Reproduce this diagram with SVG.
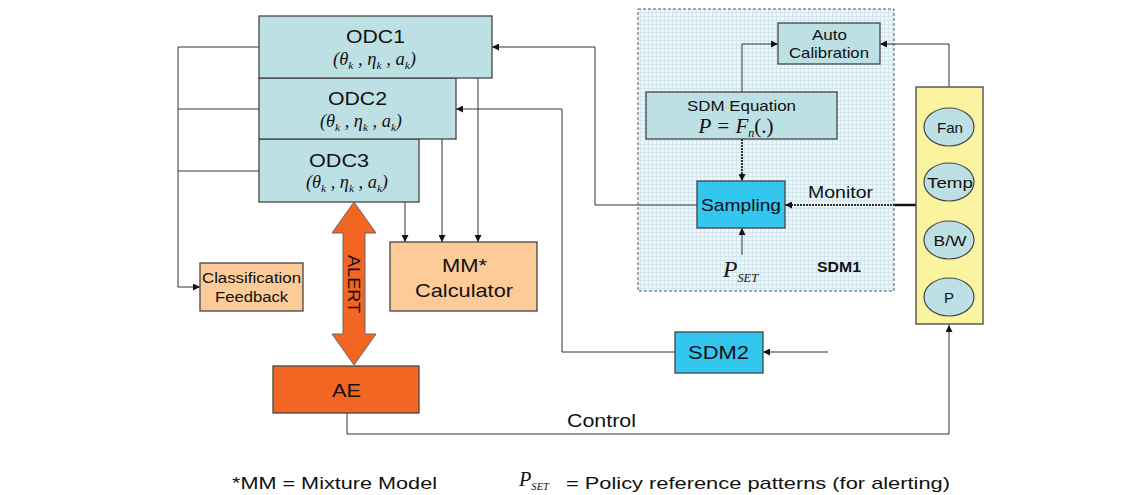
<svg xmlns="http://www.w3.org/2000/svg" width="1143" height="495" viewBox="0 0 1143 495">
<defs>
<style>
.box{stroke:#444;stroke-width:1.3}
.odc{fill:#BCE0E4}
.peach{fill:#FDCB98}
.orange{fill:#F26522}
.cyan{fill:#33C6EE}
.t{font-family:"Liberation Sans",Arial,sans-serif;fill:#111;text-anchor:middle}
.m{font-family:"Liberation Serif","Times New Roman",serif;font-style:italic;fill:#111;text-anchor:middle}
.ln{fill:none;stroke:#333;stroke-width:1}
.ell{fill:#BCE0E4;stroke:#444;stroke-width:1.2}
</style>
<marker id="ah" viewBox="0 0 10 10" refX="10" refY="5" markerWidth="7" markerHeight="7" markerUnits="userSpaceOnUse" orient="auto">
<path d="M0,0 L10,5 L0,10 z" fill="#111"/>
</marker>
<pattern id="grid" width="4" height="4" patternUnits="userSpaceOnUse">
<rect width="4" height="4" fill="#EEF6F9"/>
<path d="M0,0.5 H4 M0.5,0 V4" stroke="#D3E6EE" stroke-width="1"/>
</pattern>
</defs>
<rect width="1143" height="495" fill="#fff"/>

<g id="sdm1">
<rect x="638" y="9" width="256" height="282" fill="url(#grid)" stroke="#555" stroke-width="1" stroke-dasharray="3,2"/>
<text class="t" x="839" y="272" font-size="14" font-weight="bold" textLength="44" lengthAdjust="spacingAndGlyphs">SDM1</text>
</g>

<g id="connectors">
<path class="ln" d="M259,47 H178 V287 H200" marker-end="url(#ah)"/>
<path class="ln" d="M259,109 H178"/>
<path class="ln" d="M259,171 H178"/>
<path class="ln" d="M405,202 V242" marker-end="url(#ah)"/>
<path class="ln" d="M442,139 V242" marker-end="url(#ah)"/>
<path class="ln" d="M478,78 V242" marker-end="url(#ah)"/>
<path class="ln" d="M697,205 H595 V47 H492" marker-end="url(#ah)"/>
<path class="ln" d="M675,352 H562 V109 H456" marker-end="url(#ah)"/>
<path class="ln" d="M828,352 H763" marker-end="url(#ah)"/>
<path class="ln" d="M347,413 V434 H949 V325" marker-end="url(#ah)"/>
<path class="ln" d="M742,92 V44 H778" marker-end="url(#ah)"/>
<path class="ln" d="M949,87 V44 H880" marker-end="url(#ah)"/>
<path d="M742,139 V181" fill="none" stroke="#333" stroke-width="2" stroke-dasharray="2,1" marker-end="url(#ah)"/>
<path class="ln" d="M742,255 V228" marker-end="url(#ah)"/>
<path d="M917,205 H895" fill="none" stroke="#111" stroke-width="2.5"/>
<path d="M895,205 H785" fill="none" stroke="#333" stroke-width="2" stroke-dasharray="2,1" marker-end="url(#ah)"/>
<text class="t" x="840.5" y="198" font-size="17" textLength="65" lengthAdjust="spacingAndGlyphs">Monitor</text>
<text class="t" x="601.5" y="427" font-size="18" textLength="69" lengthAdjust="spacingAndGlyphs">Control</text>
</g>

<g id="odc3">
<rect class="box odc" x="259" y="139" width="160" height="63"/>
<text class="t" x="339" y="167" font-size="19" textLength="60" lengthAdjust="spacingAndGlyphs">ODC3</text>
<text class="m" x="347" y="188" font-size="18" textLength="82" lengthAdjust="spacingAndGlyphs">(<tspan>θ</tspan><tspan font-size="11" dy="4">k</tspan><tspan dy="-4"> , η</tspan><tspan font-size="11" dy="4">k</tspan><tspan dy="-4"> , a</tspan><tspan font-size="11" dy="4">k</tspan><tspan dy="-4">)</tspan></text>
</g>
<g id="odc2">
<rect class="box odc" x="259" y="78" width="197" height="61"/>
<text class="t" x="357.5" y="105" font-size="19" textLength="59" lengthAdjust="spacingAndGlyphs">ODC2</text>
<text class="m" x="361" y="127" font-size="18" textLength="82" lengthAdjust="spacingAndGlyphs">(<tspan>θ</tspan><tspan font-size="11" dy="4">k</tspan><tspan dy="-4"> , η</tspan><tspan font-size="11" dy="4">k</tspan><tspan dy="-4"> , a</tspan><tspan font-size="11" dy="4">k</tspan><tspan dy="-4">)</tspan></text>
</g>
<g id="odc1">
<rect class="box odc" x="259" y="16" width="233" height="62"/>
<text class="t" x="375.5" y="43" font-size="19" textLength="59" lengthAdjust="spacingAndGlyphs">ODC1</text>
<text class="m" x="374.5" y="65" font-size="18" textLength="83" lengthAdjust="spacingAndGlyphs">(<tspan>θ</tspan><tspan font-size="11" dy="4">k</tspan><tspan dy="-4"> , η</tspan><tspan font-size="11" dy="4">k</tspan><tspan dy="-4"> , a</tspan><tspan font-size="11" dy="4">k</tspan><tspan dy="-4">)</tspan></text>
</g>

<g id="classification">
<rect class="box peach" x="200" y="263" width="103" height="48"/>
<text class="t" x="251.5" y="283" font-size="14" textLength="99" lengthAdjust="spacingAndGlyphs">Classification</text>
<text class="t" x="251.5" y="302" font-size="14" textLength="73" lengthAdjust="spacingAndGlyphs">Feedback</text>
</g>

<g id="mm">
<rect class="box peach" x="390" y="242" width="147" height="69"/>
<text class="t" x="464.5" y="272" font-size="19" textLength="45" lengthAdjust="spacingAndGlyphs">MM*</text>
<text class="t" x="464" y="297" font-size="19" textLength="98" lengthAdjust="spacingAndGlyphs">Calculator</text>
</g>

<g id="alert">
<path class="orange" stroke="#666" stroke-width="1" d="M354,202 L376,233 L365,233 L365,334 L376,334 L354,365 L332,334 L343,334 L343,233 L332,233 Z"/>
<text class="t" x="0" y="0" font-size="16" textLength="58" lengthAdjust="spacingAndGlyphs" transform="translate(348,284) rotate(90)">ALERT</text>
</g>

<g id="ae">
<rect class="box orange" x="273" y="366" width="146" height="47"/>
<text class="t" x="346.5" y="397" font-size="19" textLength="29" lengthAdjust="spacingAndGlyphs">AE</text>
</g>

<g id="sdm2">
<rect class="box cyan" x="675" y="332" width="88" height="41"/>
<text class="t" x="718.5" y="359" font-size="18" textLength="61" lengthAdjust="spacingAndGlyphs">SDM2</text>
</g>

<g id="autocal">
<rect class="box odc" x="778" y="23" width="102" height="41"/>
<text class="t" x="829.5" y="40" font-size="15" textLength="35" lengthAdjust="spacingAndGlyphs">Auto</text>
<text class="t" x="829" y="58" font-size="15" textLength="80" lengthAdjust="spacingAndGlyphs">Calibration</text>
</g>

<g id="sdmeq">
<rect class="box odc" x="646" y="92" width="191" height="47"/>
<text class="t" x="741.5" y="111" font-size="15" textLength="109" lengthAdjust="spacingAndGlyphs">SDM Equation</text>
<text class="m" x="736" y="133" font-size="21">P = F<tspan font-size="12" dy="4">n</tspan><tspan dy="-4" font-style="normal">(.)</tspan></text>
</g>

<g id="sampling">
<rect class="box cyan" x="697" y="181" width="88" height="47"/>
<text class="t" x="741" y="211" font-size="17" textLength="80" lengthAdjust="spacingAndGlyphs">Sampling</text>
</g>

<g id="pset">
<text class="m" x="740.5" y="277" font-size="23" textLength="35" lengthAdjust="spacingAndGlyphs">P<tspan font-size="12" dy="5">SET</tspan></text>
</g>

<g id="devices">
<rect x="916" y="87" width="67" height="237" fill="#FAF3A0" stroke="#444" stroke-width="1.3"/>
<ellipse class="ell" cx="949" cy="127" rx="25" ry="19"/>
<text class="t" x="950" y="133" font-size="15" textLength="26" lengthAdjust="spacingAndGlyphs">Fan</text>
<ellipse class="ell" cx="949" cy="182" rx="25" ry="19"/>
<text class="t" x="950" y="188" font-size="15" textLength="46" lengthAdjust="spacingAndGlyphs">Temp</text>
<ellipse class="ell" cx="949" cy="240" rx="25" ry="19"/>
<text class="t" x="950" y="246" font-size="15" textLength="33" lengthAdjust="spacingAndGlyphs">B/W</text>
<ellipse class="ell" cx="949" cy="297" rx="25" ry="19"/>
<text class="t" x="949" y="303" font-size="15">P</text>
</g>

<g id="legend">
<text class="t" x="334.5" y="489" font-size="17" textLength="205" lengthAdjust="spacingAndGlyphs">*MM = Mixture Model</text>
<text class="m" x="534" y="486" font-size="21" textLength="30" lengthAdjust="spacingAndGlyphs">P<tspan font-size="11" dy="4">SET</tspan></text>
<text class="t" x="758" y="489" font-size="17" textLength="384" lengthAdjust="spacingAndGlyphs">= Policy reference patterns (for alerting)</text>
</g>
</svg>
